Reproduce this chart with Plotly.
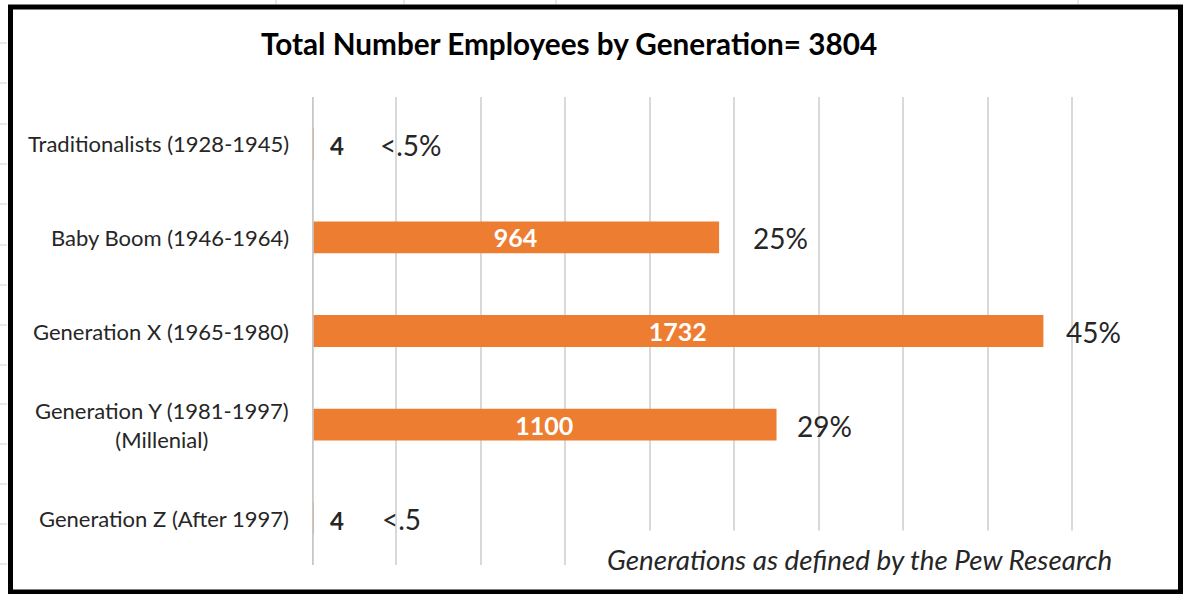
import plotly.graph_objects as go

# Data
generations = ["Traditionalists (1928-1945)", "Baby Boom (1946-1964)", "Generation X (1965-1980)",
               "Generation Y (1981-1997)<br>(Millenial)", "Generation Z (After 1997)"]
employees = [4, 964, 1732, 1100, 4]
pct_labels = ["<.5%", "25%", "45%", "29%", "<.5"]
total = 3804

W, H = 1186, 594
L, R, T, B = 312, 29, 97, 29
FONT = "Lato"
ORANGE = "#ED7D31"


def px_x(px):
    return (px - L) / (W - L - R)


def px_y(py):
    return 1 - (py - T) / (H - T - B)


fig = go.Figure()

# Bars: big ones get the count inside in white
inside_text = [str(v) if v > 100 else "" for v in employees]
fig.add_trace(go.Bar(
    x=employees, y=generations, orientation="h",
    marker=dict(color=ORANGE, line=dict(width=0)),
    width=0.34,
    text=inside_text, textposition="inside", insidetextanchor="middle", constraintext="none",
    textfont=dict(family=FONT, size=25, color="white", weight="bold"),
    hoverinfo="skip",
))

annotations = []

# Category labels (right aligned, multi-line centred)
for g in generations:
    annotations.append(dict(x=px_x(291), xref="paper", y=g, yref="y", text=g,
                            xanchor="right", align="center", showarrow=False,
                            font=dict(family=FONT, size=22, color="#262626")))

# Small values printed next to the axis
for g, v in zip(generations, employees):
    if v <= 100:
        annotations.append(dict(x=v, y=g, text=f"<b>{v}</b>", xanchor="left", xshift=14, yshift=-2,
                                showarrow=False, font=dict(family=FONT, size=24, color="#262626")))

# Percentage labels (hand placed in the original)
pct_shift = [64, 32, 21, 18, 66]
for g, v, p, s in zip(generations, employees, pct_labels, pct_shift):
    annotations.append(dict(x=v, y=g, text=p, xanchor="left", xshift=s, yshift=-1,
                            showarrow=False, font=dict(family=FONT, size=28, color="#262626")))

# Title
annotations.append(dict(x=px_x(569), y=px_y(44), xref="paper", yref="paper",
                        text=f"<b>Total Number Employees by Generation= {total}</b>",
                        showarrow=False, xanchor="center", yanchor="middle",
                        font=dict(family=FONT, size=29.7, color="black")))

# Footnote on a white box covering the gridlines
annotations.append(dict(x=px_x(598), y=px_y(559), xref="paper", yref="paper",
                        text="<i>Generations as defined by the Pew Research</i>",
                        showarrow=False, xanchor="left", yanchor="middle", align="left",
                        width=536, height=40, borderpad=8, bgcolor="white",
                        font=dict(family=FONT, size=27.8, color="#262626")))

shapes = []
# faint spreadsheet cell lines outside the chart frame
for yy in [43, 83, 124, 164, 204, 245, 285, 325, 365, 404, 444, 484, 524, 564]:
    shapes.append(dict(type="line", xref="paper", yref="paper", x0=px_x(0), x1=px_x(7),
                       y0=px_y(yy), y1=px_y(yy), line=dict(color="#D0D0D0", width=1)))
for xx in [276, 404, 556, 1078]:
    shapes.append(dict(type="line", xref="paper", yref="paper", x0=px_x(xx), x1=px_x(xx),
                       y0=px_y(0), y1=px_y(4), line=dict(color="#D0D0D0", width=1)))
# vertical category axis line at x = 0, drawn over the bars
shapes.append(dict(type="line", xref="x", yref="paper", x0=0, x1=0, y0=0, y1=1,
                   line=dict(color="#C8C8C8", width=3.6), layer="above"))
# chart frame
shapes.append(dict(type="rect", xref="paper", yref="paper", x0=px_x(10.5), x1=px_x(1180.5),
                   y0=px_y(7), y1=px_y(592), line=dict(color="black", width=5), layer="above"))

fig.update_layout(
    width=W, height=H,
    margin=dict(l=L, r=R, t=T, b=B),
    paper_bgcolor="white", plot_bgcolor="white",
    showlegend=False,
    xaxis=dict(range=[0, 2001], dtick=200, showgrid=True, gridcolor="#D9D9D9", gridwidth=2,
               zeroline=False, showticklabels=False, ticks="", fixedrange=True),
    yaxis=dict(categoryorder="array", categoryarray=generations, autorange="reversed",
               showgrid=False, zeroline=False, showticklabels=False, ticks="", fixedrange=True),
    annotations=annotations,
    shapes=shapes,
)

# drop the default page margin so the figure sits at the window's corner
fig.write_html("out.html", config={"displayModeBar": False},
               post_script="document.body.style.margin='0';")
